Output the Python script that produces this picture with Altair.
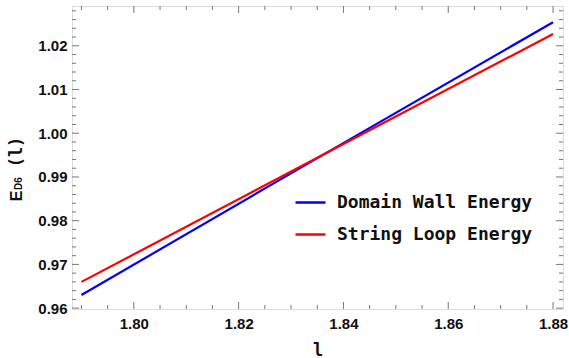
import altair as alt
import pandas as pd

# Energy curves E_D6(l)
l_vals = [1.79, 1.836, 1.88]
domain_wall = [0.963, 0.9950, 1.0254]
string_loop = [0.966, 0.9950, 1.0227]

series_names = ["Domain Wall Energy", "String Loop Energy"]
series_colors = ["#0000FF", "#FF0000"]

x_labels = [1.80, 1.82, 1.84, 1.86, 1.88]
y_labels = [0.96, 0.97, 0.98, 0.99, 1.00, 1.01, 1.02]
x_minor = [1.79, 1.795, 1.805, 1.81, 1.815, 1.825, 1.83, 1.835, 1.845, 1.85,
           1.855, 1.865, 1.87, 1.875]
y_minor = [0.962, 0.964, 0.966, 0.968, 0.972, 0.974, 0.976, 0.978, 0.982, 0.984,
           0.986, 0.988, 0.992, 0.994, 0.996, 0.998, 1.002, 1.004, 1.006, 1.008,
           1.012, 1.014, 1.016, 1.018, 1.022, 1.024, 1.026, 1.028]

W, H = 491, 303
X_DOM = [1.7882, 1.8819]
Y_DOM = [0.9598, 1.0291]
MAJOR, MINOR = 7, 4

rows = []
for name, vals in zip(series_names, [domain_wall, string_loop]):
    for lv, ev in zip(l_vals, vals):
        rows.append({"l": lv, "E": ev, "series": name})
df = pd.DataFrame(rows)

xs = alt.Scale(domain=X_DOM, nice=False, zero=False)
ys = alt.Scale(domain=Y_DOM, nice=False, zero=False)

LABEL_FONT = "Liberation Sans"
MONO = "DejaVu Sans Mono"
TICK_COL = "#777777"
FRAME_COL = "#8a8a8a"
TEXT_COL = "#111111"

lines = alt.Chart(df).mark_line(strokeWidth=2.2).encode(
    x=alt.X("l:Q", scale=xs, axis=alt.Axis(
        values=x_labels, format=".2f", ticks=False, domain=False, grid=False,
        labelFont=LABEL_FONT, labelFontWeight="bold", labelFontSize=15,
        labelColor=TEXT_COL, labelPadding=7, title="l", titleFont=MONO,
        titleFontWeight="bold", titleFontSize=17, titleColor=TEXT_COL,
        titlePadding=11)),
    y=alt.Y("E:Q", scale=ys, axis=alt.Axis(
        values=y_labels, format=".2f", ticks=False, domain=False, grid=False,
        labelFont=LABEL_FONT, labelFontWeight="bold", labelFontSize=15,
        labelColor=TEXT_COL, labelPadding=5, title=None)),
    color=alt.Color("series:N", scale=alt.Scale(domain=series_names, range=series_colors),
                    legend=alt.Legend(
                        orient="none", legendX=222, legendY=180, title=None,
                        symbolType="stroke", symbolSize=900, symbolStrokeWidth=2.5,
                        labelFont=MONO, labelFontWeight="bold", labelFontSize=18,
                        labelColor=TEXT_COL, labelOffset=10, rowPadding=6,
                        labelLimit=400, padding=0)),
)


def rule(d, **enc):
    return alt.Chart(d).mark_rule(color=TICK_COL, strokeWidth=1).encode(**enc)


def x_ticks(values, length):
    d = pd.DataFrame({"v": values})
    x = alt.X("v:Q", scale=xs, axis=None)
    return [rule(d, x=x, y=alt.value(H), y2=alt.value(H - length)),
            rule(d, x=x, y=alt.value(0), y2=alt.value(length))]


def y_ticks(values, length):
    d = pd.DataFrame({"v": values})
    y = alt.Y("v:Q", scale=ys, axis=None)
    return [rule(d, y=y, x=alt.value(0), x2=alt.value(length)),
            rule(d, y=y, x=alt.value(W), x2=alt.value(W - length))]


tick_layers = (x_ticks(x_labels, MAJOR) + x_ticks(x_minor, MINOR)
               + y_ticks(y_labels, MAJOR) + y_ticks(y_minor, MINOR))

one = alt.Data(values=[{}])
title_style = dict(angle=270, fontWeight="bold", color=TEXT_COL,
                   baseline="middle", align="center")
t_e = alt.Chart(one).mark_text(text="E", fontSize=16, font=LABEL_FONT, **title_style).encode(
    x=alt.value(-55), y=alt.value(190))
t_sub = alt.Chart(one).mark_text(text="D6", fontSize=10, font=LABEL_FONT, **title_style).encode(
    x=alt.value(-53.5), y=alt.value(177.5))
t_arg = alt.Chart(one).mark_text(text="(l)", fontSize=17, font=MONO, **title_style).encode(
    x=alt.value(-55), y=alt.value(146))

chart = alt.layer(*tick_layers, lines, t_e, t_sub, t_arg).resolve_axis(
    x="independent", y="independent"
).properties(
    width=W, height=H,
    autosize=alt.AutoSizeParams(type="none"),
    padding={"left": 72, "top": 6, "right": 6, "bottom": 49},
).configure_view(stroke=FRAME_COL, strokeWidth=1.2).configure(background="white")

chart.save("out.html", embed_options={"renderer": "svg", "actions": False})
